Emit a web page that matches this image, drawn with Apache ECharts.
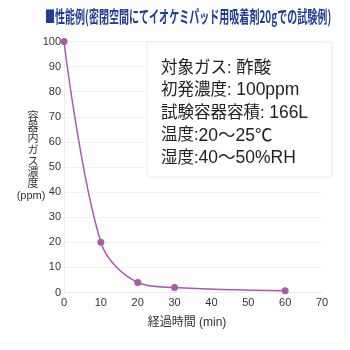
<!DOCTYPE html>
<html>
<head>
<meta charset="utf-8">
<script src="https://cdn.jsdelivr.net/npm/echarts@6/dist/echarts.min.js"></script>
<style>
  html, body { margin: 0; padding: 0; background: #fff; }
  #chart { width: 350px; height: 350px; }
</style>
</head>
<body>
<div id="chart"></div>
<script>
// Elapsed time (min) and acetic acid concentration in the container (ppm)
const minutes = [0, 10, 20, 30, 60];
const concentration = [100, 20, 4, 2, 0.7];

const xTicks = { min: 0, max: 70, interval: 10 };
const yTicks = { min: 0, max: 100, interval: 10 };

const titleText = '■性能例(密閉空間にてイオケミパッド用吸着剤20gでの試験例)';
const yAxisName = ['容', '器', '内', 'ガ', 'ス', '濃', '度', '(ppm)'];
const xAxisName = '経過時間 (min)';
// Test conditions: label part and value part
const conditionLabels = ['対象ガス: ', '初発濃度: ', '試験容器容積: ', '温度:', '湿度:'];
const conditionValues = ['酢酸', '100ppm', '166L', '20～25℃', '40～50%RH'];

const narrow = '"Liberation Sans Narrow", "Liberation Sans", "Noto Sans CJK JP", sans-serif';
const cjk = '"Liberation Sans", "Noto Sans CJK JP", sans-serif';
const lineColor = '#a85aac';

const chart = echarts.init(document.getElementById('chart'), null, { renderer: 'canvas' });

chart.setOption({
  animation: false,
  backgroundColor: '#ffffff',
  grid: { left: 64, right: 28, top: 41.5, bottom: 57.5, containLabel: false },
  xAxis: {
    type: 'value',
    min: xTicks.min, max: xTicks.max, interval: xTicks.interval,
    axisLine: { show: true, lineStyle: { color: '#eeeeee' } },
    axisTick: { show: false },
    splitLine: { show: false },
    axisLabel: { color: '#333', fontFamily: narrow, fontSize: 11, margin: 5 }
  },
  yAxis: {
    type: 'value',
    min: yTicks.min, max: yTicks.max, interval: yTicks.interval,
    axisLine: { show: true, lineStyle: { color: '#eeeeee' } },
    axisTick: { show: false },
    splitLine: { show: true, lineStyle: { color: '#f1f1f1' } },
    axisLabel: { color: '#333', fontFamily: narrow, fontSize: 11, margin: 3 }
  },
  series: [{
    type: 'line',
    data: minutes.map((m, i) => [m, concentration[i]]),
    smooth: 0.35,
    symbol: 'circle',
    symbolSize: 7,
    lineStyle: { color: lineColor, width: 1.5 },
    itemStyle: { color: lineColor },
    z: 5
  }],
  graphic: [
    {
      type: 'rect', silent: true, z: -1,
      shape: { x: -4, y: -4, width: 349, height: 347, r: 4 },
      style: { fill: 'none', stroke: '#f0f0f0', lineWidth: 1 }
    },
    {
      type: 'text', z: 10,
      x: 45, y: 17, scaleX: 0.59,
      style: {
        text: titleText, fill: '#1e3d96',
        font: 'bold 17px "Noto Sans CJK JP", sans-serif',
        textAlign: 'left', textVerticalAlign: 'middle'
      }
    },
    {
      type: 'rect', z: 20,
      shape: { x: 147, y: 42, width: 185, height: 135 },
      style: { fill: '#ffffff', stroke: '#eeeeee', lineWidth: 1,
               shadowBlur: 3, shadowColor: 'rgba(0,0,0,0.04)' }
    },
    ...conditionLabels.map((t, i) => ({
      type: 'text', z: 21,
      x: 161, y: 68 + i * 22.6,
      style: {
        text: '{a|' + t + '}{b|' + conditionValues[i] + '}',
        rich: {
          a: { fill: '#222', font: '16.5px ' + cjk },
          b: { fill: '#222', font: '17.5px ' + cjk }
        },
        textAlign: 'left', textVerticalAlign: 'middle'
      }
    })),
    ...yAxisName.map((t, i) => ({
      type: 'text', z: 10,
      x: i === yAxisName.length - 1 ? 31 : 33,
      y: 117 + i * 11.2 + (i === yAxisName.length - 1 ? 1 : 0),
      style: {
        text: t, fill: '#333',
        font: '11px ' + cjk,
        textAlign: 'center', textVerticalAlign: 'middle'
      }
    })),
    {
      type: 'text', z: 10,
      x: 187, y: 323,
      style: {
        text: xAxisName, fill: '#333',
        font: '12px ' + cjk,
        textAlign: 'center', textVerticalAlign: 'middle'
      }
    }
  ]
});
</script>
</body>
</html>
